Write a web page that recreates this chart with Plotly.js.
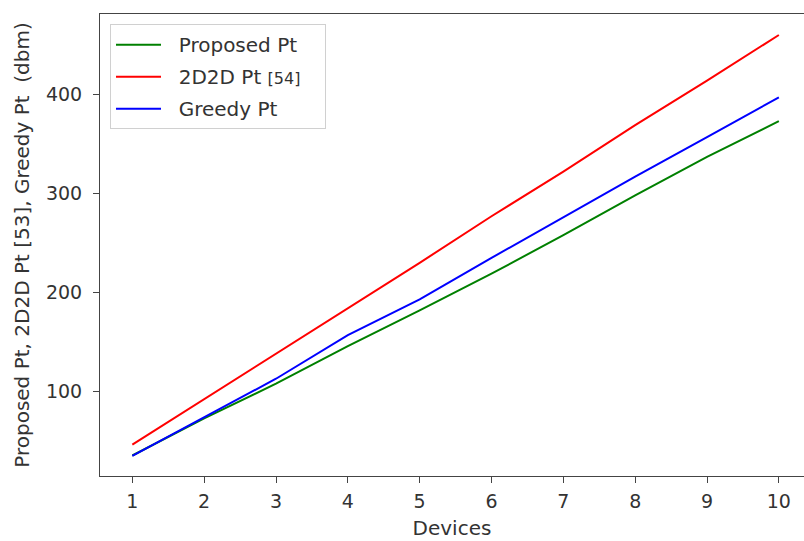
<!DOCTYPE html>
<html>
<head>
<meta charset="utf-8">
<script src="https://cdn.plot.ly/plotly-3.0.1.min.js"></script>
<style>html,body{margin:0;padding:0;background:#fff;overflow:hidden}</style>
</head>
<body>
<div id="chart" style="width:804px;height:541px"></div>
<script>
const devices = [1, 2, 3, 4, 5, 6, 7, 8, 9, 10];
const proposedPt = [35.5, 73, 108, 146, 182, 219, 258, 298, 337, 373];
const d2dPt = [46.5, 92.5, 138, 184, 230, 277, 322, 369, 414, 460];
const greedyPt = [35, 74, 113, 157, 193, 235, 276, 317, 357, 397];
const seriesNames = ['Proposed Pt', '2D2D Pt <span style="font-size:16px">[54]</span>', 'Greedy Pt'];
const xTicks = [1, 2, 3, 4, 5, 6, 7, 8, 9, 10];
const yTicks = [100, 200, 300, 400];

const pad = '\u00a0\u00a0';
const tail = '\u00a0\u00a0\u00a0';
const tickFont = {family: 'DejaVu Sans, sans-serif', size: 19, color: '#333'};
const titleFont = {family: 'DejaVu Sans, sans-serif', size: 20, color: '#333'};
const traces = [
  {x: devices, y: proposedPt, name: pad + seriesNames[0], legendgroup: 'a', mode: 'lines', line: {color: '#008000', width: 2}},
  {x: devices, y: d2dPt, name: pad + seriesNames[1] + tail, legendgroup: 'b', mode: 'lines', line: {color: '#ff0000', width: 2}},
  {x: devices, y: greedyPt, name: pad + seriesNames[2], legendgroup: 'c', mode: 'lines', line: {color: '#0000ff', width: 2}}
];
const layout = {
  width: 804, height: 541,
  margin: {l: 100, r: 0, t: 14, b: 65},
  paper_bgcolor: '#fff', plot_bgcolor: '#fff',
  font: titleFont,
  showlegend: true,
  legend: {x: 0.0142, y: 0.978, xanchor: 'left', yanchor: 'top',
    traceorder: 'grouped', tracegroupgap: 3, itemwidth: 45,
    bgcolor: '#fff', bordercolor: '#d0d0d0', borderwidth: 1,
    font: {family: 'DejaVu Sans, sans-serif', size: 20, color: '#333'}},
  xaxis: {
    range: [0.55, 10.35], tickvals: xTicks, ticktext: xTicks.map(String),
    showgrid: false, zeroline: false, showline: true, mirror: true,
    linecolor: '#444', linewidth: 1, ticks: 'outside', ticklen: 6, tickcolor: '#444',
    tickfont: tickFont, ticklabelstandoff: 2,
    title: {text: 'Devices', font: titleFont, standoff: 10}
  },
  yaxis: {
    range: [14.8, 481.2], tickvals: yTicks, ticktext: yTicks.map(String),
    showgrid: false, zeroline: false, showline: true, mirror: false,
    linecolor: '#444', linewidth: 1, ticks: 'outside', ticklen: 6, tickcolor: '#444',
    tickfont: tickFont, ticklabelstandoff: 7,
    title: {text: 'Proposed Pt, 2D2D Pt [53], Greedy Pt  (dbm)', font: titleFont, standoff: 10}
  }
};
Plotly.newPlot('chart', traces, layout, {displayModeBar: false, staticPlot: true});
</script>
</body>
</html>
